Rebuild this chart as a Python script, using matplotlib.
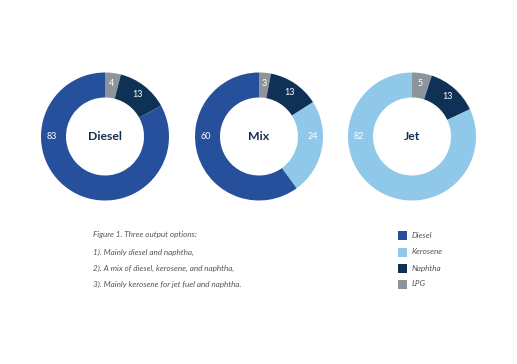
import matplotlib
matplotlib.use("Agg")
import matplotlib.pyplot as plt
from matplotlib.patches import Rectangle
import numpy as np

plt.rcParams['font.family'] = ['Lato', 'DejaVu Sans']

# Data
categories = ["LPG", "Naphtha", "Kerosene", "Diesel"]
options = ["Diesel", "Mix", "Jet"]
values = {
    "Diesel": [4, 13, 0, 83],
    "Mix": [3, 13, 24, 60],
    "Jet": [5, 13, 82, 0],
}
legend_order = ["Diesel", "Kerosene", "Naphtha", "LPG"]
caption_lines = [
    "Figure 1. Three output options:",
    "1). Mainly diesel and naphtha,",
    "2). A mix of diesel, kerosene, and naphtha,",
    "3). Mainly kerosene for jet fuel and naphtha.",
]

colors = {
    "Diesel": "#26509b",
    "Kerosene": "#8fc8e8",
    "Naphtha": "#0f3156",
    "LPG": "#8d949b",
}

W, H = 517, 364
fig = plt.figure(figsize=(W / 100, H / 100), dpi=100)
fig.patch.set_facecolor("white")

centers_x = [105, 259, 412]
cy = 136.5
R = 64
r_in = 39
width = (R - r_in) / R
label_r = 53.5 / R

for name, cx in zip(options, centers_x):
    ax = fig.add_axes([(cx - R) / W, (H - cy - R) / H, 2 * R / W, 2 * R / H])
    vals = values[name]
    cats = [c for c, v in zip(categories, vals) if v > 0]
    vs = [v for v in vals if v > 0]
    wedges, _ = ax.pie(vs, colors=[colors[c] for c in cats], startangle=90,
                       counterclock=False, radius=1,
                       wedgeprops=dict(width=width, edgecolor="none"))
    for w, v in zip(wedges, vs):
        t1, t2 = w.theta1, w.theta2
        mid = (t1 + t2) / 2
        ang = mid
        if (t2 - t1) > 60:
            # large wedges: label at the horizontal direction nearest the middle
            cands = [s for s in (-180, 0, 180) if t1 <= s <= t2]
            if cands:
                ang = min(cands, key=lambda s: abs(s - mid))
        a = np.deg2rad(ang)
        ax.text(label_r * np.cos(a), label_r * np.sin(a), str(v),
                ha="center", va="center", color="white", fontsize=6.5)
    ax.text(0, 0, name, ha="center", va="center", color="#14304f",
            fontsize=8.8, fontweight="bold")
    ax.set_xlim(-1, 1)
    ax.set_ylim(-1, 1)
    ax.set_aspect("equal")
    ax.axis("off")

caption_y = [235, 252, 268, 284]
for line, y in zip(caption_lines, caption_y):
    fig.text(93 / W, 1 - y / H, line, ha="left", va="center",
             fontsize=5.9, style="italic", color="#555555")

for cat, y in zip(legend_order, caption_y):
    fig.add_artist(Rectangle(((398) / W, 1 - (y + 4.5) / H), 9 / W, 9 / H,
                             transform=fig.transFigure, facecolor=colors[cat],
                             edgecolor="none"))
    fig.text(412 / W, 1 - y / H, cat, ha="left", va="center",
             fontsize=5.9, style="italic", color="#555555")

fig.savefig("out.png", dpi=100, facecolor="white")
